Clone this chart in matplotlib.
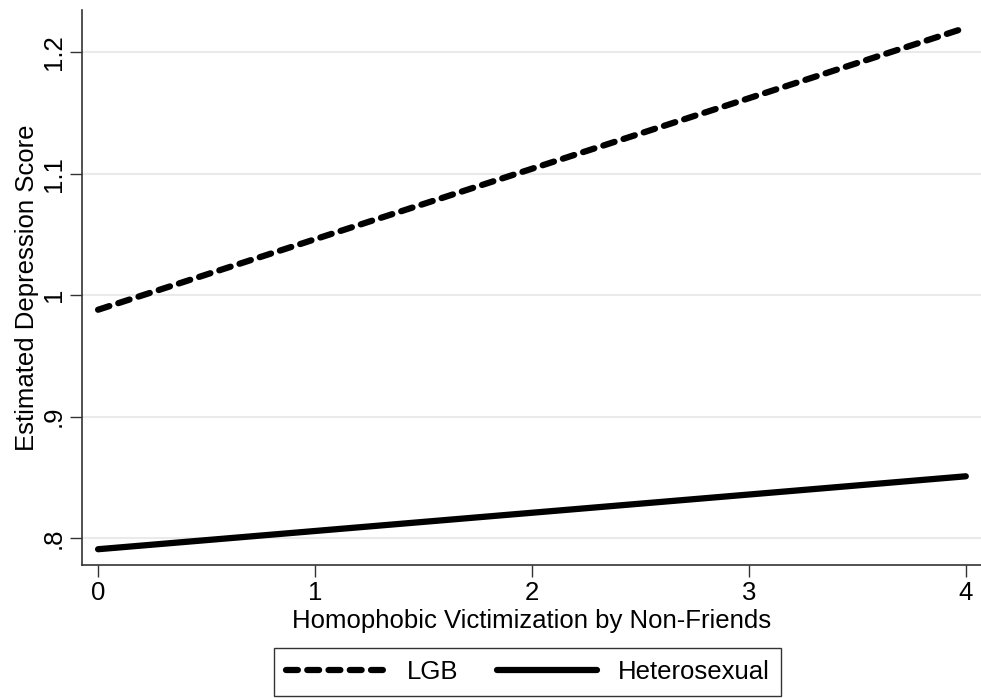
import matplotlib.pyplot as plt
import numpy as np

plt.rcParams['font.family'] = ['Liberation Sans', 'DejaVu Sans']

victimization = [0, 4]
lgb = [0.988, 1.220]
hetero = [0.791, 0.851]
yticks = [0.8, 0.9, 1.0, 1.1, 1.2]
ytick_labels = [".8", ".9", "1", "1.1", "1.2"]
xticks = [0, 1, 2, 3, 4]

fig = plt.figure(figsize=(9.81, 6.98), dpi=100)
ax = fig.add_axes([0.0836, 0.1905, 0.9164, 0.7952])

for y in yticks:
    ax.axhline(y, color="#eaeaea", lw=1.5, zorder=0)

ax.plot(victimization, lgb, color="black", lw=4.5, dashes=(1.9, 1.5),
        dash_capstyle="round", solid_capstyle="round", label="LGB")
ax.plot(victimization, hetero, color="black", lw=4.5,
        solid_capstyle="round", label="Heterosexual")

ax.set_xlim(-0.074, 4.07)
ax.set_ylim(0.778, 1.2346)
ax.set_xticks(xticks)
ax.set_yticks(yticks)
ax.set_yticklabels(ytick_labels, rotation=90, va="center")
ax.tick_params(labelsize=18.5, length=8.5, width=1, color="#333333", pad=3)
for s in ["top", "right"]:
    ax.spines[s].set_visible(False)
for s in ["left", "bottom"]:
    ax.spines[s].set_color("#333333")
    ax.spines[s].set_linewidth(1.2)

ax.set_xlabel("Homophobic Victimization by Non-Friends", fontsize=18.5, labelpad=3)
ax.set_ylabel("Estimated Depression Score", fontsize=18.5, labelpad=2)

leg = fig.legend(loc="lower center", bbox_to_anchor=(0.538, -0.015), ncol=2,
                 fontsize=18.5, frameon=True, fancybox=False, edgecolor="black",
                 handlelength=3.9, handletextpad=0.8, columnspacing=1.5,
                 borderpad=0.45)
leg.get_frame().set_linewidth(1.0)

fig.savefig("out.png", dpi=100)
